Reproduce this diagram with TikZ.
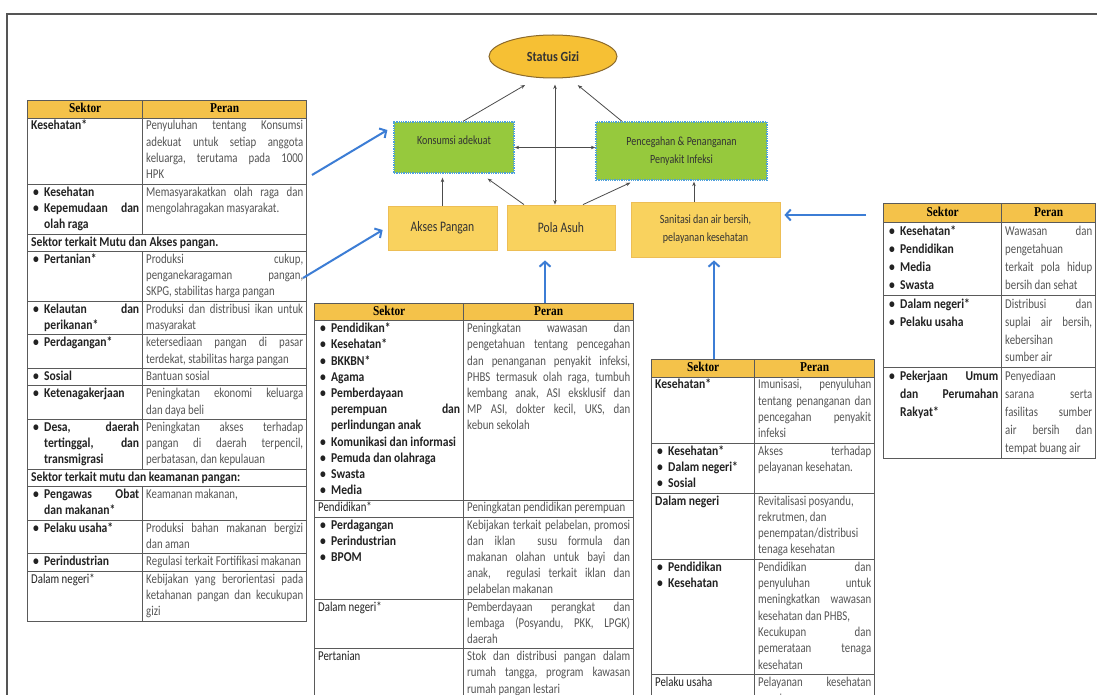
\documentclass[tikz,border=0pt]{standalone}
\usepackage{fontspec}
\setmainfont{Carlito}[FakeStretch=0.8, BoldFeatures={FakeStretch=0.86}]
\newfontfamily\hdrf{Liberation Serif}[FakeStretch=0.84]
\usepackage{array}
\usepackage{colortbl}
\usetikzlibrary{shapes.geometric,arrows.meta,calc}
\pgfdeclarelayer{bg}
\pgfsetlayers{bg,main}
\hyphenpenalty=10000
\exhyphenpenalty=10000
\setlength{\tabcolsep}{3pt}
\setlength{\arrayrulewidth}{1pt}
\definecolor{hdr}{HTML}{F4C24A}
\definecolor{rulec}{HTML}{5A5A5A}
\definecolor{perc}{HTML}{555555}
\definecolor{sekc}{HTML}{222222}
\definecolor{ellc}{HTML}{F6C034}
\definecolor{ellb}{HTML}{8C6A2C}
\definecolor{gfill}{HTML}{96C93D}
\definecolor{gbord}{HTML}{4EA0DC}
\definecolor{yfill}{HTML}{F9D25E}
\definecolor{ybord}{HTML}{EDBE55}
\definecolor{bluc}{HTML}{3C7DD5}
\definecolor{frm}{HTML}{555555}
\definecolor{txtd}{HTML}{333333}
\arrayrulecolor{rulec}
\newcommand\bti[1]{\hangindent=13pt\hangafter=1\hspace*{2pt}\makebox[11pt][l]{\textbullet}#1}
\newcommand\bt[1]{\par\leavevmode\bti{#1}}
\newcommand\tsize[2]{\fontsize{#1}{#2}\selectfont\normalbaselineskip=#2pt\relax}
\newcolumntype{Y}[1]{>{\leavevmode\bfseries\color{sekc}}p{#1}}
\newcolumntype{Z}[1]{>{\leavevmode\color{perc}}p{#1}}
\newcommand\hd{\multicolumn{1}{|c|}{\cellcolor{hdr}\hdrf\bfseries Sektor} & \multicolumn{1}{c|}{\cellcolor{hdr}\hdrf\bfseries Peran}\\\hline}
\newcommand\wide[1]{\multicolumn{2}{|l|}{\bfseries\color{sekc}#1}\\\hline}
\tikzset{
  ell/.style={ellipse, draw=ellb, fill=ellc, line width=1pt, minimum width=128pt, minimum height=43pt, inner sep=0pt, font=\fontsize{14}{16}\selectfont\bfseries, text=txtd},
  gbox/.style={rectangle, fill=gfill, draw=gbord, densely dotted, line width=1.3pt, text=txtd, font=\fontsize{12.5}{18}\selectfont, align=center},
  ybox/.style={rectangle, fill=yfill, draw=ybord, line width=0.8pt, text=txtd, align=center},
  blk/.style={draw=black!70, line width=0.8pt, -{Stealth[length=4.5pt,width=3.5pt]}},
  blkb/.style={draw=black!70, line width=0.8pt, {Stealth[length=4.5pt,width=3.5pt]}-{Stealth[length=4.5pt,width=3.5pt]}},
  blu/.style={draw=bluc, line width=2pt, -{Straight Barb[length=5pt,width=11pt]}},
  tbl/.style={anchor=north west, inner sep=0pt}
}
\begin{document}
\begin{tikzpicture}[x=1pt,y=-1pt]
\useasboundingbox (0,0) rectangle (1097,695);
\clip (0,0) rectangle (1097,695);
\fill[white] (0,0) rectangle (1097,695);
\draw[frm, line width=1.5pt] (7,695) -- (7,14) -- (1097,14);

% ---------------- diagram ----------------
\node[ell] (sg) at (553,56.5) {Status Gizi};
\node[gbox, minimum width=120pt, minimum height=51pt] (kons) at (454,147.5) {\raisebox{3pt}[0pt][0pt]{Konsumsi adekuat}};
\node[gbox, minimum width=171pt, minimum height=58pt] (pen) at (681.5,151) {Pencegahan \& Penanganan\\Penyakit Infeksi};
\node[ybox, minimum width=109pt, minimum height=44pt, font=\fontsize{14.5}{16}\selectfont] (akses) at (442.5,228) {Akses Pangan};
\node[ybox, minimum width=108pt, minimum height=45pt, font=\fontsize{14.5}{16}\selectfont] (pola) at (561,227.5) {Pola Asuh};
\node[ybox, minimum width=149pt, minimum height=55pt, font=\fontsize{12.5}{18}\selectfont] (san) at (705.5,229.5) {Sanitasi dan air bersih,\\pelayanan kesehatan};

% black connectors
\draw[blk, shorten >=1pt] ([xshift=9pt]kons.north) -- ($(sg.south)+(-27,6)$);
\draw[blk, shorten >=1pt] ([xshift=-59.5pt]pen.north) -- ($(sg.south)+(24,6)$);
\draw[blkb] ($(sg.south)+(2,6)$) coordinate (v1) -- (v1 |- pola.north);
\draw[blkb] (kons.east) -- (kons.east -| pen.west);
\draw[blk, shorten >=4pt] (akses.north) -- (akses.north |- kons.south);
\draw[blk] ([xshift=-37pt]pola.north) -- ($(kons.south east)+(-27,5)$);
\draw[blk] ([xshift=22pt]pola.north) -- ($(pen.south west)+(35,2)$);
\draw[blk, shorten >=1pt] ([xshift=-11.5pt]san.north) coordinate (s1) -- (s1 |- pen.south);

% ---------------- tables ----------------
\node[tbl, font={\tsize{13.5}{16.3}}] (tL) at (27,100) {%
\begin{tabular}{|Y{108pt}|Z{157pt}|}\hline
\hd
Kesehatan* & Penyuluhan~tentang~Konsumsi\linebreak adekuat~untuk~setiap~anggota\linebreak keluarga,~terutama~pada~1000\linebreak HPK\\\hline
\bti{Kesehatan}\bt{Kepemudaan~dan\linebreak olah~raga} & Memasyarakatkan~olah~raga~dan\linebreak mengolahragakan~masyarakat.\\\hline
\wide{Sektor terkait Mutu dan Akses pangan.}
\bti{Pertanian*} & Produksi~cukup,\linebreak penganekaragaman~pangan,\linebreak SKPG,~stabilitas~harga~pangan\\\hline
\bti{Kelautan~dan\linebreak perikanan*} & Produksi~dan~distribusi~ikan~untuk\linebreak masyarakat\\\hline
\bti{Perdagangan*} & ketersediaan~pangan~di~pasar\linebreak terdekat,~stabilitas~harga~pangan\\\hline
\bti{Sosial} & Bantuan~sosial\\\hline
\bti{Ketenagakerjaan} & Peningkatan~ekonomi~keluarga\linebreak dan~daya~beli\\\hline
\bti{Desa,~daerah\linebreak tertinggal,~dan\linebreak transmigrasi} & Peningkatan~akses~terhadap\linebreak pangan~di~daerah~terpencil,\linebreak perbatasan,~dan~kepulauan\\\hline
\wide{Sektor terkait mutu dan keamanan pangan:}
\bti{Pengawas~Obat\linebreak dan~makanan*} & Keamanan~makanan,\\\hline
\bti{Pelaku~usaha*} & Produksi~bahan~makanan~bergizi\linebreak dan~aman\\\hline
\bti{Perindustrian} & Regulasi~terkait~Fortifikasi~makanan\\\hline
{\mdseries Dalam~negeri*} & Kebijakan~yang~berorientasi~pada\linebreak ketahanan~pangan~dan~kecukupan\linebreak gizi\\\hline
\end{tabular}};

\node[tbl, font={\tsize{13.5}{16.2}}] (tM) at (314,303) {%
\begin{tabular}{|Y{142pt}|Z{163pt}|}\hline
\hd
\bti{Pendidikan*}\bt{Kesehatan*}\bt{BKKBN*}\bt{Agama}\bt{Pemberdayaan\linebreak perempuan~dan\linebreak perlindungan~anak}\bt{Komunikasi~dan~informasi}\bt{Pemuda~dan~olahraga}\bt{Swasta}\bt{Media} & Peningkatan~wawasan~dan\linebreak pengetahuan~tentang~pencegahan\linebreak dan~penanganan~penyakit~infeksi,\linebreak PHBS~termasuk~olah~raga,~tumbuh\linebreak kembang~anak,~ASI~eksklusif~dan\linebreak MP~ASI,~dokter~kecil,~UKS,~dan\linebreak kebun~sekolah\\\hline
{\mdseries Pendidikan*} & Peningkatan~pendidikan~perempuan\\\hline
\bti{Perdagangan}\bt{Perindustrian}\bt{BPOM} & Kebijakan~terkait~pelabelan,~promosi\linebreak dan~iklan~~susu~formula~dan\linebreak makanan~olahan~untuk~bayi~dan\linebreak anak,~~regulasi~terkait~iklan~dan\linebreak pelabelan~makanan\\\hline
{\mdseries Dalam~negeri*} & Pemberdayaan~perangkat~dan\linebreak lembaga~(Posyandu,~PKK,~LPGK)\linebreak daerah\\\hline
{\mdseries Pertanian} & Stok~dan~distribusi~pangan~dalam\linebreak rumah~tangga,~program~kawasan\linebreak rumah~pangan~lestari\\\hline
\end{tabular}};

\node[tbl, font={\tsize{13.5}{16.3}}] (tR1) at (651,359) {%
\begin{tabular}{|Y{96pt}|Z{113pt}|}\hline
\hd
Kesehatan* & Imunisasi,~penyuluhan\linebreak tentang~penanganan~dan\linebreak pencegahan~penyakit\linebreak infeksi\\\hline
\bti{Kesehatan*}\bt{Dalam~negeri*}\bt{Sosial} & Akses~terhadap\linebreak pelayanan~kesehatan.\\\hline
Dalam~negeri & Revitalisasi~posyandu,\newline rekrutmen,~dan\newline penempatan/distribusi\newline tenaga~kesehatan\\\hline
\bti{Pendidikan}\bt{Kesehatan} & Pendidikan~dan\linebreak penyuluhan~untuk\linebreak meningkatkan~wawasan\linebreak kesehatan~dan~PHBS,\newline Kecukupan~dan\linebreak pemerataan~tenaga\linebreak kesehatan\\\hline
{\mdseries Pelaku~usaha} & Pelayanan~kesehatan\linebreak swasta\\\hline
\end{tabular}};

\node[tbl, font={\tsize{13.5}{17.9}}] (tR2) at (883,203) {%
\begin{tabular}{|Y{111pt}|Z{87pt}|}\hline
\hd
\bti{Kesehatan*}\bt{Pendidikan}\bt{Media}\bt{Swasta} & Wawasan~dan\linebreak pengetahuan\linebreak terkait~pola~hidup\linebreak bersih~dan~sehat\\\hline
\bti{Dalam~negeri*}\bt{Pelaku~usaha} & Distribusi~dan\linebreak suplai~air~bersih,\linebreak kebersihan\linebreak sumber~air\\\hline
\bti{Pekerjaan~Umum\linebreak dan~Perumahan\linebreak Rakyat*} & Penyediaan\linebreak sarana~serta\linebreak fasilitas~sumber\linebreak air~bersih~dan\linebreak tempat~buang~air\\\hline
\end{tabular}};

% ---------------- blue connectors ----------------
\coordinate (b1s) at (312,175);
\coordinate (b2s) at (303,278);
\coordinate (b3s) at (545,303);
\coordinate (b4s) at (714,359);
\coordinate (b5s) at (748,359);
\coordinate (b6s) at (866,215);
\draw[blu] (b1s) -- ($(kons.west)+(-6,-17.5)$);
\draw[blu] (b2s) -- ($(akses.west)+(-5,2)$);
\draw[blu, shorten >=10pt] (b3s) -- (b3s |- pola.south);
\draw[blu, shorten >=3pt] (b4s) -- (b4s |- san.south);
\begin{pgfonlayer}{bg}
\draw[blu, shorten >=10pt] (b5s) -- (b5s |- pen.south);
\end{pgfonlayer}
\draw[blu, shorten >=4pt] (b6s) -- (b6s -| san.east);
\end{tikzpicture}
\end{document}
